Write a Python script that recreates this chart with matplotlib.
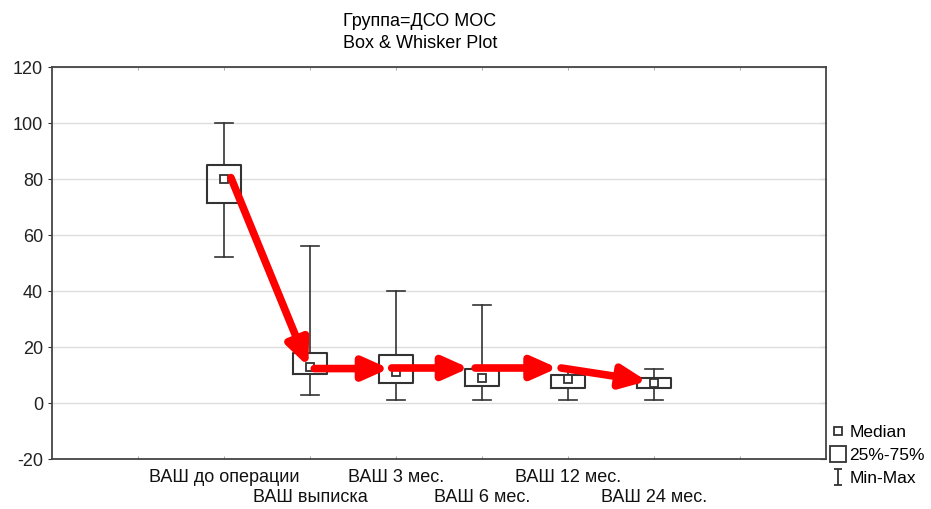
import matplotlib
matplotlib.use('Agg')
import matplotlib.pyplot as plt
from matplotlib.lines import Line2D
from matplotlib.path import Path
from matplotlib.transforms import blended_transform_factory

plt.rcParams['font.family'] = ['Liberation Sans', 'DejaVu Sans']
plt.rcParams['axes.unicode_minus'] = False

# data
labels = ['ВАШ до операции', 'ВАШ выписка', 'ВАШ 3 мес.', 'ВАШ 6 мес.',
          'ВАШ 12 мес.', 'ВАШ 24 мес.']
medians = [80, 13, 11, 9, 8.5, 7]
q1 = [71.5, 10.5, 7, 6, 5.5, 5.5]
q3 = [85, 18, 17, 12, 10, 9]
mins = [52, 3, 1, 1, 1, 1]
maxs = [100, 56, 40, 35, 12.5, 12]

# red arrows drawn over the plot (start x, start y, end x, end y)
arrow_x0 = [1.08, 2.05, 2.95, 3.92, 4.92]
arrow_y0 = [80.5, 12.3, 12.5, 12.5, 12.5]
arrow_x1 = [1.98, 2.92, 3.85, 4.88, 5.92]
arrow_y1 = [13.0, 12.3, 12.5, 12.5, 7.8]

box_col = '#333333'
pos = list(range(1, len(labels) + 1))
fs = 13

fig = plt.figure(figsize=(9.31, 5.09), dpi=100)
ax = fig.add_axes([52 / 931, 1 - 459 / 509, 774 / 931, 392 / 509])

stats = []
for i in range(len(labels)):
    stats.append(dict(med=medians[i], q1=q1[i], q3=q3[i],
                      whislo=mins[i], whishi=maxs[i], fliers=[]))

ax.bxp(stats, positions=pos, widths=0.4, capwidths=0.2, showfliers=False,
       boxprops=dict(color=box_col, lw=1.5),
       whiskerprops=dict(color=box_col, lw=1.2),
       capprops=dict(color=box_col, lw=1.2),
       medianprops=dict(visible=False))
ax.plot(pos, medians, ls='none', marker='s', ms=6, mfc='white',
        mec=box_col, mew=1.3, zorder=4)

for i in range(len(arrow_x0)):
    ax.annotate('', xy=(arrow_x1[i], arrow_y1[i]), xytext=(arrow_x0[i], arrow_y0[i]),
                arrowprops=dict(arrowstyle='-|>,head_length=0.85,head_width=0.38',
                                color='#ff0000', lw=5.5, mutation_scale=18,
                                shrinkA=0, shrinkB=0), zorder=5)

ax.set_xlim(-1, 8)
ax.set_ylim(-20, 120)
ax.set_yticks(range(-20, 121, 20))
ax.yaxis.grid(True, color='#dddddd', lw=1)
ax.set_axisbelow(True)
ax.tick_params(axis='y', which='major', direction='out', length=3, color=box_col,
               labelsize=fs, labelcolor='#222222')
right = ax.secondary_yaxis('right')
right.set_yticks(range(-20, 121, 20))
right.tick_params(direction='in', length=4, color=box_col, labelright=False)
right.spines['right'].set_visible(False)

# category labels staggered on two rows
ax.set_xticks([])
ax.set_xticks(range(0, 8), minor=True)
ax.tick_params(axis='x', which='minor', direction='in', length=2,
               color='#999999', top=True, labelbottom=False)
trans = blended_transform_factory(ax.transData, fig.transFigure)
for i, lab in enumerate(labels):
    ypix = 477 if i % 2 == 0 else 498
    ax.text(pos[i], 1 - ypix / 509, lab, transform=trans, ha='center',
            va='center', fontsize=fs, color='#111111')

for s in ax.spines.values():
    s.set_color('#444444')
    s.set_linewidth(1.3)

fig.text(420 / 931, 1 - 22 / 509, 'Группа=ДСО МОС', ha='center', va='center',
         fontsize=fs)
fig.text(420 / 931, 1 - 44 / 509, 'Box & Whisker Plot', ha='center', va='center',
         fontsize=fs)

# legend in the lower right corner outside the plot
whisk = Path([(-0.5, 1), (0.5, 1), (0, 1), (0, -1), (-0.5, -1), (0.5, -1)],
             [Path.MOVETO, Path.LINETO, Path.MOVETO, Path.LINETO,
              Path.MOVETO, Path.LINETO])
handles = [
    Line2D([], [], ls='none', marker='s', ms=6, mfc='white', mec=box_col, mew=1.3),
    Line2D([], [], ls='none', marker='s', ms=11, mfc='white', mec=box_col, mew=1.3),
    Line2D([], [], ls='none', marker=whisk, ms=12, mec=box_col, mew=1.3),
]
fig.legend(handles, ['Median', '25%-75%', 'Min-Max'], loc='upper left',
           bbox_to_anchor=(820 / 931, 1 - 413 / 509), frameon=False,
           fontsize=12.5, handlelength=0.7, handletextpad=0.3,
           labelspacing=0.45, borderpad=0.2)

fig.savefig('out.png', dpi=100)
